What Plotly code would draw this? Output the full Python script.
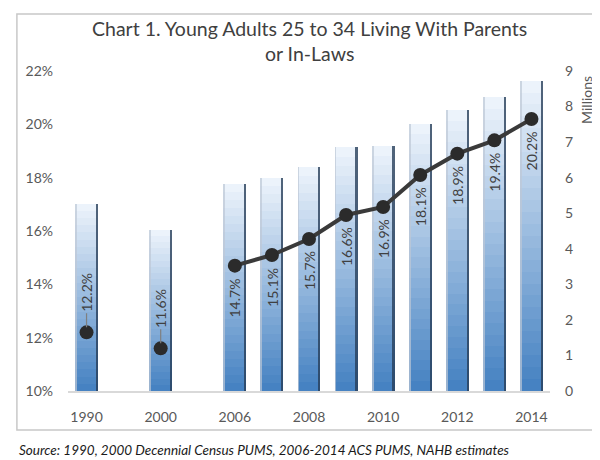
import plotly.graph_objects as go

# Categories: Excel left two empty slots between the census years and the ACS years
categories = ["1990", "", "2000", "", "2006", "2007", "2008", "2009",
              "2010", "2011", "2012", "2013", "2014"]
tick_labels = ["1990", "2000", "2006", "2008", "2010", "2012", "2014"]

# Number of young adults living with parents (millions, right axis)
millions = [5.27, None, 4.54, None, 5.82, 5.99, 6.30, 6.85, 6.88, 7.52, 7.91, 8.26, 8.73]
# Share of young adults 25-34 living with parents (%, left axis)
share = [12.2, None, 11.6, None, 14.7, 15.1, 15.7, 16.6, 16.9, 18.1, 18.9, 19.4, 20.2]

labels_above = ["1990", "2000"]

xpos = list(range(len(categories)))
tick_pos = [categories.index(t) for t in tick_labels]


def mix(c1, c2, t):
    return "rgb(%d,%d,%d)" % tuple(round(a + (b - a) * t) for a, b in zip(c1, c2))


fig = go.Figure()

# fake a vertical gradient: stacked overlays, each shorter and darker
top_col = (236, 243, 251)
bottom_col = (70, 130, 194)
steps = 26
for k in range(steps):
    f = 1 - k / steps
    fig.add_trace(go.Bar(
        x=xpos,
        y=[v * f if v is not None else None for v in millions],
        width=0.62,
        marker=dict(color=mix(top_col, bottom_col, k / (steps - 1)),
                    line=dict(width=0)),
        yaxis="y", hoverinfo="skip", showlegend=False))

# dark bevel on the right side of each bar
fig.add_trace(go.Bar(
    x=xpos, y=millions, width=0.06, offset=0.25,
    marker=dict(color="rgba(40,62,90,0.8)", line=dict(width=0)),
    yaxis="y", hoverinfo="skip", showlegend=False))
# light bevel on the left side
fig.add_trace(go.Bar(
    x=xpos, y=millions, width=0.05, offset=-0.31,
    marker=dict(color="rgba(190,200,214,0.7)", line=dict(width=0)),
    yaxis="y", hoverinfo="skip", showlegend=False))

fig.add_trace(go.Scatter(
    x=xpos, y=share, yaxis="y2", mode="lines+markers",
    connectgaps=False,
    line=dict(color="#3a3a3a", width=4),
    marker=dict(color="#2b2b2b", size=14),
    hoverinfo="skip", showlegend=False))

# rotated data labels
for i, (cat, val) in enumerate(zip(categories, share)):
    if val is None:
        continue
    if cat in labels_above:
        fig.add_annotation(x=i, y=val, xref="x", yref="y2", text="%.1f%%" % val,
                           textangle=-90, showarrow=True, arrowhead=0,
                           arrowcolor="#7f7f7f", arrowwidth=1.2, ax=0, ay=-40,
                           standoff=5, font=dict(family="Lato", size=14, color="#404040"))
    else:
        fig.add_annotation(x=i, y=val, xref="x", yref="y2", text="%.1f%%" % val,
                           textangle=-90, showarrow=False, yshift=-32,
                           font=dict(family="Lato", size=14, color="#404040"))

fig.add_annotation(x=1.077, y=0.91, xref="paper", yref="paper", text="Millions",
                   xanchor="center", yanchor="middle",
                   textangle=-90, showarrow=False,
                   font=dict(family="Lato", size=14, color="#595959"))

fig.add_annotation(x=0.5, y=1.094, xref="paper", yref="paper",
                   xanchor="center", yanchor="middle",
                   text="Chart 1. Young Adults 25 to 34 Living With Parents<br>or In-Laws",
                   showarrow=False,
                   font=dict(family="Lato", size=19.5, color="#404040"))

fig.add_annotation(x=-0.106, y=-0.185, xref="paper", yref="paper",
                   xanchor="left", yanchor="middle",
                   text="<i>Source: 1990, 2000 Decennial Census PUMS, 2006-2014 ACS PUMS, NAHB estimates</i>",
                   showarrow=False, font=dict(family="Lato", size=13.5, color="#1a1a1a"))

# chart frame
fig.add_shape(type="rect", xref="paper", yref="paper", layer="above",
              x0=-0.106, x1=1.102, y0=-0.122, y1=1.178,
              line=dict(color="#c8c8c8", width=1.5))

fig.update_layout(
    width=600, height=460,
    margin=dict(l=60, r=58, t=63, b=77, autoexpand=False),
    paper_bgcolor="white", plot_bgcolor="white",
    barmode="overlay", bargap=0,
    font=dict(family="Lato", size=14, color="#595959"),
    xaxis=dict(range=[-0.5, len(categories) - 0.5], automargin=False,
               tickmode="array", tickvals=tick_pos, ticktext=tick_labels,
               showline=True, linecolor="#d9d9d9", linewidth=1.5,
               showgrid=False, zeroline=False, ticks="", ticklabelstandoff=12),
    yaxis=dict(side="right", range=[0, 9], dtick=1, showgrid=False, automargin=False,
               zeroline=False, ticks="", ticklabelstandoff=14),
    yaxis2=dict(overlaying="y", side="left", range=[10, 22], dtick=2, automargin=False,
                ticksuffix="%", showgrid=False, zeroline=False, ticks="",
                ticklabelstandoff=14),
)

fig.write_html("out.html")
